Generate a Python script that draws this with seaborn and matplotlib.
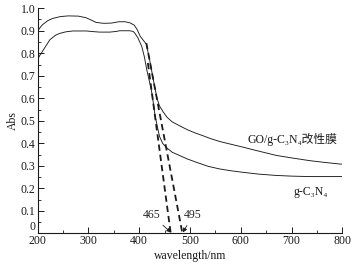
import numpy as np
import matplotlib
matplotlib.use('Agg')
import matplotlib.pyplot as plt
from matplotlib.ticker import AutoMinorLocator
import seaborn as sns

# GO/g-C3N4 modified membrane spectrum
wl_go = [200, 205, 210, 220, 230, 245, 260, 280, 295, 305, 315, 330, 345, 360, 372,
         382, 390, 396, 402, 410, 414, 420, 425, 430, 435, 440, 447, 455, 465, 480,
         495, 510, 525, 540, 560, 580, 604, 630, 650, 670, 700, 735, 765, 794, 800]
abs_go = [0.898, 0.915, 0.928, 0.945, 0.955, 0.963, 0.966, 0.965, 0.958, 0.948, 0.937,
          0.933, 0.934, 0.940, 0.940, 0.935, 0.925, 0.905, 0.875, 0.852, 0.840, 0.776,
          0.716, 0.656, 0.600, 0.565, 0.540, 0.515, 0.495, 0.477, 0.460, 0.446, 0.434,
          0.421, 0.407, 0.396, 0.383, 0.368, 0.357, 0.346, 0.335, 0.323, 0.315, 0.308, 0.307]

# g-C3N4 spectrum
wl_cn = [200, 204, 207, 214, 224, 235, 243, 255, 269, 296, 310, 322, 342, 355, 361,
         381, 388, 391, 397, 402, 405, 410, 415, 420, 424, 428, 431, 436, 440, 446,
         453, 465, 480, 495, 512, 535, 558, 580, 604, 635, 670, 700, 735, 770, 800]
abs_cn = [0.773, 0.790, 0.800, 0.825, 0.860, 0.880, 0.888, 0.895, 0.899, 0.899, 0.896,
          0.894, 0.894, 0.897, 0.900, 0.900, 0.897, 0.890, 0.870, 0.845, 0.830, 0.785,
          0.725, 0.675, 0.635, 0.575, 0.525, 0.470, 0.430, 0.400, 0.382, 0.360, 0.345,
          0.330, 0.316, 0.298, 0.286, 0.278, 0.271, 0.263, 0.257, 0.254, 0.252, 0.252, 0.252]

# tangent lines used for the absorption edges
tan_go_x = [414, 485]
tan_go_y = [0.845, 0.0]
tan_cn_x = [417, 462]
tan_cn_y = [0.757, 0.0]

edge_labels = ['465', '495']
x_ticks = [200, 300, 400, 500, 600, 700, 800]
y_ticks = [0, 0.1, 0.2, 0.3, 0.4, 0.5, 0.6, 0.7, 0.8, 0.9, 1.0]
y_tick_labels = ['0', '0.1', '0.2', '0.3', '0.4', '0.5', '0.6', '0.7', '0.8', '0.9', '1.0']

sns.set_theme(style='ticks')
plt.rcParams['font.family'] = ['Liberation Serif', 'Noto Sans CJK SC', 'DejaVu Sans']
plt.rcParams['axes.unicode_minus'] = False

fig = plt.figure(figsize=(3.54, 2.66), dpi=100)
ax = fig.add_axes([0.1065, 0.123, 0.8605, 0.846])

sns.lineplot(x=wl_go, y=abs_go, ax=ax, color='k', lw=0.65, sort=False, estimator=None)
sns.lineplot(x=wl_cn, y=abs_cn, ax=ax, color='k', lw=0.65, sort=False, estimator=None)
sns.lineplot(x=tan_go_x, y=tan_go_y, ax=ax, color='k', lw=1.3,
             linestyle=(0, (3.5, 2.2)), sort=False, estimator=None)
sns.lineplot(x=tan_cn_x, y=tan_cn_y, ax=ax, color='k', lw=1.3,
             linestyle=(0, (3.5, 2.2)), sort=False, estimator=None)

fs = 8.5
ax.text(614, 0.418, 'GO/g-C₃N₄改性膜', fontsize=fs, va='center', color='k')
ax.text(703, 0.183, 'g-C₃N₄', fontsize=fs, va='center', color='k')

arrow = dict(arrowstyle='-|>', color='k', lw=0.6, mutation_scale=6, shrinkA=1, shrinkB=0)
ax.annotate(edge_labels[0], xy=(462.5, 0.004), xytext=(424, 0.081), fontsize=fs,
            ha='center', va='center', arrowprops=arrow)
ax.annotate(edge_labels[1], xy=(486, 0.004), xytext=(506, 0.081), fontsize=fs,
            ha='center', va='center', arrowprops=arrow)

ax.set_xlim(200, 800)
ax.set_ylim(0, 1.0)
ax.set_xticks(x_ticks)
ax.set_yticks(y_ticks)
ax.set_yticklabels(y_tick_labels)
ax.xaxis.set_minor_locator(AutoMinorLocator(2))
ax.yaxis.set_minor_locator(AutoMinorLocator(2))
ax.tick_params(which='major', direction='in', length=4, width=0.7, labelsize=fs,
               pad=1.5, colors='k')
ax.tick_params(which='minor', direction='in', length=2.2, width=0.6, colors='k')
# the "0" on the y axis sits just above the x axis, as in the original
ax.get_yticklabels()[0].set_verticalalignment('bottom')

ax.set_xlabel('wavelength/nm', fontsize=fs, labelpad=2, color='k')
ax.set_ylabel('Abs', fontsize=fs, labelpad=1, color='k')

sns.despine(ax=ax)
for s in ['left', 'bottom']:
    ax.spines[s].set_color('k')
    ax.spines[s].set_linewidth(0.8)

fig.savefig('out.png', dpi=100)
